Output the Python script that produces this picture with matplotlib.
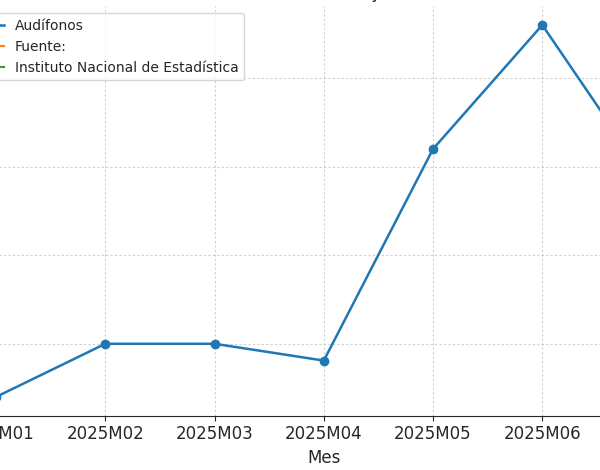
import matplotlib
matplotlib.use("Agg")
import matplotlib.pyplot as plt
from matplotlib.ticker import MultipleLocator

meses = ["2025M01", "2025M02", "2025M03", "2025M04", "2025M05", "2025M06", "2025M07"]
audifonos = [100.08, 100.20, 100.20, 100.162, 100.64, 100.92, 100.558]
serie_labels = ["Audífonos", "Fuente:", "Instituto Nacional de Estadística"]
titulo = "Datos de Audífonos y Fuente"

plt.rcParams["text.color"] = "#262626"
plt.rcParams["xtick.color"] = "#262626"
plt.rcParams["axes.labelcolor"] = "#262626"

fig = plt.figure(figsize=(6, 4.7), dpi=100)
ax = fig.add_axes([-36.7 / 600, 54.5 / 470, 721.0 / 600, 409.1 / 470])

x = list(range(len(meses)))
ax.plot(x, audifonos, marker="o", color="#1f77b4", linewidth=1.8, markersize=6,
        label=serie_labels[0])
ax.plot([], [], color="#ff7f0e", label=serie_labels[1])
ax.plot([], [], color="#2ca02c", label=serie_labels[2])

ax.set_xticks(x)
ax.set_xticklabels(meses, fontsize=12)
ax.yaxis.set_major_locator(MultipleLocator(0.2))
ax.tick_params(axis="y", labelsize=12)
ax.set_xlabel("Mes", fontsize=12)
ax.set_ylabel("Valor", fontsize=12)
ax.set_title(titulo, fontsize=12)
ax.grid(True, linestyle=(0, (2, 2)), color="#b0b0b0", alpha=0.6, linewidth=0.8)
ax.spines["top"].set_visible(False)
ax.spines["right"].set_visible(False)
ax.spines["bottom"].set_color("#262626")
ax.legend(loc="upper left", fontsize=10)

fig.savefig("out.png", dpi=100)
